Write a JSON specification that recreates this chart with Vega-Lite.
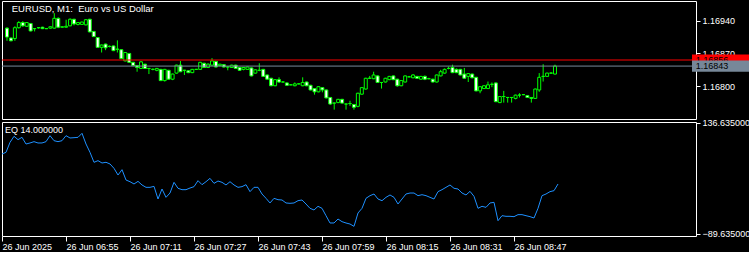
{
  "$schema": "https://vega.github.io/schema/vega-lite/v6.json",
  "background": "#000000",
  "padding": {"left": -1, "top": 0, "right": 0, "bottom": 0},
  "bounds": "flush",
  "config": {
    "view": {"stroke": "#FFFFFF", "strokeWidth": 1},
    "axis": {"domain": false, "grid": false, "tickColor": "#FFFFFF", "labelColor": "#FFFFFF", "labelFont": "Liberation Sans", "labelFontSize": 9, "tickSize": 4, "labelPadding": 2, "title": null}
  },
  "data": {"values": [
    {"m":399,"o":1.16924,"h":1.16926,"l":1.16897,"c":1.16905,"eq":73.4},
    {"m":400,"o":1.16903,"h":1.16904,"l":1.16896,"c":1.16897,"eq":76.8},
    {"m":401,"o":1.16902,"h":1.16928,"l":1.16897,"c":1.16925,"eq":97.2},
    {"m":402,"o":1.16925,"h":1.16939,"l":1.16923,"c":1.16936,"eq":109.5},
    {"m":403,"o":1.16936,"h":1.16939,"l":1.16927,"c":1.16929,"eq":102.7},
    {"m":404,"o":1.16928,"h":1.16937,"l":1.16927,"c":1.16936,"eq":107.4},
    {"m":405,"o":1.16934,"h":1.16935,"l":1.16917,"c":1.16918,"eq":93.8},
    {"m":406,"o":1.16923,"h":1.16924,"l":1.16917,"c":1.16923,"eq":95.9},
    {"m":407,"o":1.16925,"h":1.16926,"l":1.16923,"c":1.16925,"eq":98.6},
    {"m":408,"o":1.16926,"h":1.16927,"l":1.16922,"c":1.16923,"eq":95.9},
    {"m":409,"o":1.16923,"h":1.16924,"l":1.16922,"c":1.16923,"eq":95.9},
    {"m":410,"o":1.16924,"h":1.16928,"l":1.16923,"c":1.16927,"eq":98.6},
    {"m":411,"o":1.16924,"h":1.16956,"l":1.16923,"c":1.16945,"eq":110.8},
    {"m":412,"o":1.16945,"h":1.16947,"l":1.16924,"c":1.16926,"eq":100.6},
    {"m":413,"o":1.16926,"h":1.16928,"l":1.16925,"c":1.16927,"eq":98.6},
    {"m":414,"o":1.16926,"h":1.16942,"l":1.16925,"c":1.16928,"eq":100.6},
    {"m":415,"o":1.16929,"h":1.16945,"l":1.16928,"c":1.16943,"eq":110.8},
    {"m":416,"o":1.16943,"h":1.16944,"l":1.16930,"c":1.16933,"eq":106.1},
    {"m":417,"o":1.16932,"h":1.16937,"l":1.16930,"c":1.16936,"eq":106.7},
    {"m":418,"o":1.16932,"h":1.16938,"l":1.16931,"c":1.16937,"eq":107.4},
    {"m":419,"o":1.16931,"h":1.16943,"l":1.16930,"c":1.16942,"eq":115.6},
    {"m":420,"o":1.16943,"h":1.16944,"l":1.16915,"c":1.16916,"eq":93.8},
    {"m":421,"o":1.16917,"h":1.16917,"l":1.16905,"c":1.16906,"eq":76.8},
    {"m":422,"o":1.16904,"h":1.16905,"l":1.16882,"c":1.16883,"eq":56.5},
    {"m":423,"o":1.16883,"h":1.16889,"l":1.16872,"c":1.16888,"eq":59.9},
    {"m":424,"o":1.16890,"h":1.16891,"l":1.16877,"c":1.16882,"eq":55.1},
    {"m":425,"o":1.16885,"h":1.16887,"l":1.16883,"c":1.16885,"eq":56.5},
    {"m":426,"o":1.16886,"h":1.16887,"l":1.16875,"c":1.16876,"eq":53.1},
    {"m":427,"o":1.16879,"h":1.16898,"l":1.16872,"c":1.16879,"eq":44.2},
    {"m":428,"o":1.16878,"h":1.16879,"l":1.16858,"c":1.16859,"eq":30.6},
    {"m":429,"o":1.16854,"h":1.16873,"l":1.16853,"c":1.16872,"eq":41.5},
    {"m":430,"o":1.16870,"h":1.16871,"l":1.16850,"c":1.16851,"eq":20.4},
    {"m":431,"o":1.16851,"h":1.16852,"l":1.16843,"c":1.16844,"eq":17.0},
    {"m":432,"o":1.16844,"h":1.16845,"l":1.16831,"c":1.16840,"eq":12.3},
    {"m":433,"o":1.16838,"h":1.16854,"l":1.16837,"c":1.16852,"eq":17.7},
    {"m":434,"o":1.16847,"h":1.16848,"l":1.16837,"c":1.16838,"eq":10.3},
    {"m":435,"o":1.16838,"h":1.16839,"l":1.16826,"c":1.16838,"eq":5.5},
    {"m":436,"o":1.16836,"h":1.16838,"l":1.16834,"c":1.16836,"eq":5.5},
    {"m":437,"o":1.16834,"h":1.16839,"l":1.16832,"c":1.16838,"eq":7.5},
    {"m":438,"o":1.16836,"h":1.16837,"l":1.16811,"c":1.16812,"eq":-18.3},
    {"m":439,"o":1.16812,"h":1.16837,"l":1.16810,"c":1.16836,"eq":2.1},
    {"m":440,"o":1.16834,"h":1.16835,"l":1.16814,"c":1.16815,"eq":-14.9},
    {"m":441,"o":1.16815,"h":1.16827,"l":1.16813,"c":1.16826,"eq":-6.1},
    {"m":442,"o":1.16828,"h":1.16846,"l":1.16827,"c":1.16845,"eq":15.7},
    {"m":443,"o":1.16845,"h":1.16854,"l":1.16830,"c":1.16831,"eq":3.5},
    {"m":444,"o":1.16834,"h":1.16835,"l":1.16824,"c":1.16834,"eq":0.7},
    {"m":445,"o":1.16833,"h":1.16834,"l":1.16828,"c":1.16829,"eq":0.7},
    {"m":446,"o":1.16829,"h":1.16837,"l":1.16828,"c":1.16836,"eq":4.1},
    {"m":447,"o":1.16836,"h":1.16837,"l":1.16835,"c":1.16836,"eq":6.9},
    {"m":448,"o":1.16836,"h":1.16852,"l":1.16835,"c":1.16851,"eq":19.1},
    {"m":449,"o":1.16849,"h":1.16850,"l":1.16839,"c":1.16840,"eq":10.9},
    {"m":450,"o":1.16840,"h":1.16849,"l":1.16839,"c":1.16847,"eq":17.0},
    {"m":451,"o":1.16845,"h":1.16860,"l":1.16844,"c":1.16854,"eq":23.8},
    {"m":452,"o":1.16853,"h":1.16854,"l":1.16840,"c":1.16841,"eq":13.6},
    {"m":453,"o":1.16844,"h":1.16848,"l":1.16843,"c":1.16847,"eq":18.4},
    {"m":454,"o":1.16846,"h":1.16847,"l":1.16840,"c":1.16841,"eq":15.7},
    {"m":455,"o":1.16841,"h":1.16843,"l":1.16834,"c":1.16841,"eq":10.3},
    {"m":456,"o":1.16840,"h":1.16846,"l":1.16839,"c":1.16845,"eq":17.0},
    {"m":457,"o":1.16845,"h":1.16846,"l":1.16837,"c":1.16838,"eq":10.3},
    {"m":458,"o":1.16840,"h":1.16841,"l":1.16833,"c":1.16834,"eq":5.5},
    {"m":459,"o":1.16836,"h":1.16841,"l":1.16834,"c":1.16840,"eq":6.9},
    {"m":460,"o":1.16836,"h":1.16842,"l":1.16835,"c":1.16841,"eq":10.9},
    {"m":461,"o":1.16839,"h":1.16840,"l":1.16821,"c":1.16822,"eq":-3.3},
    {"m":462,"o":1.16828,"h":1.16836,"l":1.16827,"c":1.16835,"eq":5.5},
    {"m":463,"o":1.16834,"h":1.16849,"l":1.16832,"c":1.16834,"eq":5.5},
    {"m":464,"o":1.16836,"h":1.16837,"l":1.16820,"c":1.16821,"eq":-8.1},
    {"m":465,"o":1.16824,"h":1.16825,"l":1.16814,"c":1.16815,"eq":-16.9},
    {"m":466,"o":1.16817,"h":1.16818,"l":1.16800,"c":1.16801,"eq":-26.4},
    {"m":467,"o":1.16801,"h":1.16815,"l":1.16800,"c":1.16814,"eq":-16.9},
    {"m":468,"o":1.16814,"h":1.16819,"l":1.16807,"c":1.16809,"eq":-19.7},
    {"m":469,"o":1.16809,"h":1.16811,"l":1.16808,"c":1.16809,"eq":-20.3},
    {"m":470,"o":1.16807,"h":1.16808,"l":1.16801,"c":1.16802,"eq":-26.4},
    {"m":471,"o":1.16803,"h":1.16804,"l":1.16802,"c":1.16803,"eq":-27.1},
    {"m":472,"o":1.16801,"h":1.16808,"l":1.16800,"c":1.16805,"eq":-26.4},
    {"m":473,"o":1.16805,"h":1.16806,"l":1.16804,"c":1.16805,"eq":-21.7},
    {"m":474,"o":1.16801,"h":1.16819,"l":1.16800,"c":1.16808,"eq":-20.3},
    {"m":475,"o":1.16809,"h":1.16810,"l":1.16800,"c":1.16801,"eq":-28.5},
    {"m":476,"o":1.16802,"h":1.16803,"l":1.16791,"c":1.16792,"eq":-37.3},
    {"m":477,"o":1.16795,"h":1.16796,"l":1.16782,"c":1.16788,"eq":-40.7},
    {"m":478,"o":1.16788,"h":1.16800,"l":1.16787,"c":1.16799,"eq":-33.2},
    {"m":479,"o":1.16797,"h":1.16798,"l":1.16787,"c":1.16792,"eq":-37.3},
    {"m":480,"o":1.16792,"h":1.16793,"l":1.16774,"c":1.16775,"eq":-52.3},
    {"m":481,"o":1.16776,"h":1.16777,"l":1.16760,"c":1.16762,"eq":-67.2},
    {"m":482,"o":1.16764,"h":1.16765,"l":1.16750,"c":1.16764,"eq":-67.2},
    {"m":483,"o":1.16765,"h":1.16773,"l":1.16764,"c":1.16772,"eq":-59.1},
    {"m":484,"o":1.16772,"h":1.16773,"l":1.16763,"c":1.16764,"eq":-64.5},
    {"m":485,"o":1.16762,"h":1.16763,"l":1.16750,"c":1.16762,"eq":-67.2},
    {"m":486,"o":1.16763,"h":1.16769,"l":1.16758,"c":1.16763,"eq":-69.3},
    {"m":487,"o":1.16761,"h":1.16762,"l":1.16750,"c":1.16755,"eq":-74.0},
    {"m":488,"o":1.16757,"h":1.16786,"l":1.16755,"c":1.16785,"eq":-46.8},
    {"m":489,"o":1.16783,"h":1.16798,"l":1.16782,"c":1.16797,"eq":-37.3},
    {"m":490,"o":1.16794,"h":1.16818,"l":1.16793,"c":1.16817,"eq":-16.9},
    {"m":491,"o":1.16817,"h":1.16822,"l":1.16816,"c":1.16817,"eq":-11.5},
    {"m":492,"o":1.16816,"h":1.16831,"l":1.16815,"c":1.16824,"eq":-8.1},
    {"m":493,"o":1.16822,"h":1.16823,"l":1.16807,"c":1.16808,"eq":-18.3},
    {"m":494,"o":1.16808,"h":1.16809,"l":1.16795,"c":1.16808,"eq":-21.7},
    {"m":495,"o":1.16809,"h":1.16818,"l":1.16808,"c":1.16817,"eq":-14.9},
    {"m":496,"o":1.16814,"h":1.16822,"l":1.16813,"c":1.16821,"eq":-10.1},
    {"m":497,"o":1.16822,"h":1.16823,"l":1.16813,"c":1.16814,"eq":-14.9},
    {"m":498,"o":1.16815,"h":1.16816,"l":1.16799,"c":1.16801,"eq":-28.5},
    {"m":499,"o":1.16801,"h":1.16813,"l":1.16800,"c":1.16812,"eq":-18.3},
    {"m":500,"o":1.16809,"h":1.16823,"l":1.16808,"c":1.16822,"eq":-8.1},
    {"m":501,"o":1.16820,"h":1.16822,"l":1.16819,"c":1.16820,"eq":-6.1},
    {"m":502,"o":1.16818,"h":1.16826,"l":1.16817,"c":1.16824,"eq":-6.1},
    {"m":503,"o":1.16821,"h":1.16822,"l":1.16816,"c":1.16817,"eq":-11.5},
    {"m":504,"o":1.16815,"h":1.16822,"l":1.16814,"c":1.16821,"eq":-9.5},
    {"m":505,"o":1.16821,"h":1.16823,"l":1.16813,"c":1.16815,"eq":-11.5},
    {"m":506,"o":1.16816,"h":1.16818,"l":1.16815,"c":1.16816,"eq":-14.9},
    {"m":507,"o":1.16815,"h":1.16816,"l":1.16808,"c":1.16809,"eq":-18.3},
    {"m":508,"o":1.16809,"h":1.16825,"l":1.16808,"c":1.16824,"eq":-3.3},
    {"m":509,"o":1.16822,"h":1.16835,"l":1.16821,"c":1.16831,"eq":0.7},
    {"m":510,"o":1.16828,"h":1.16838,"l":1.16827,"c":1.16836,"eq":5.5},
    {"m":511,"o":1.16838,"h":1.16842,"l":1.16836,"c":1.16838,"eq":10.3},
    {"m":512,"o":1.16840,"h":1.16846,"l":1.16828,"c":1.16829,"eq":3.5},
    {"m":513,"o":1.16836,"h":1.16838,"l":1.16828,"c":1.16829,"eq":2.1},
    {"m":514,"o":1.16836,"h":1.16837,"l":1.16823,"c":1.16824,"eq":-6.1},
    {"m":515,"o":1.16826,"h":1.16839,"l":1.16816,"c":1.16817,"eq":-10.1},
    {"m":516,"o":1.16821,"h":1.16828,"l":1.16809,"c":1.16827,"eq":-2.7},
    {"m":517,"o":1.16826,"h":1.16827,"l":1.16817,"c":1.16818,"eq":-12.9},
    {"m":518,"o":1.16819,"h":1.16820,"l":1.16789,"c":1.16790,"eq":-37.3},
    {"m":519,"o":1.16790,"h":1.16800,"l":1.16785,"c":1.16799,"eq":-33.2},
    {"m":520,"o":1.16795,"h":1.16802,"l":1.16794,"c":1.16801,"eq":-35.3},
    {"m":521,"o":1.16795,"h":1.16810,"l":1.16794,"c":1.16803,"eq":-26.4},
    {"m":522,"o":1.16804,"h":1.16808,"l":1.16798,"c":1.16804,"eq":-25.1},
    {"m":523,"o":1.16807,"h":1.16808,"l":1.16766,"c":1.16767,"eq":-62.5},
    {"m":524,"o":1.16765,"h":1.16779,"l":1.16764,"c":1.16778,"eq":-52.3},
    {"m":525,"o":1.16778,"h":1.16790,"l":1.16765,"c":1.16778,"eq":-53.6},
    {"m":526,"o":1.16776,"h":1.16777,"l":1.16765,"c":1.16776,"eq":-53.6},
    {"m":527,"o":1.16776,"h":1.16777,"l":1.16765,"c":1.16776,"eq":-54.3},
    {"m":528,"o":1.16774,"h":1.16782,"l":1.16772,"c":1.16781,"eq":-50.2},
    {"m":529,"o":1.16781,"h":1.16785,"l":1.16776,"c":1.16781,"eq":-50.2},
    {"m":530,"o":1.16782,"h":1.16783,"l":1.16781,"c":1.16782,"eq":-52.3},
    {"m":531,"o":1.16780,"h":1.16781,"l":1.16775,"c":1.16776,"eq":-54.3},
    {"m":532,"o":1.16776,"h":1.16777,"l":1.16765,"c":1.16774,"eq":-57.0},
    {"m":533,"o":1.16774,"h":1.16795,"l":1.16773,"c":1.16794,"eq":-37.3},
    {"m":534,"o":1.16792,"h":1.16828,"l":1.16788,"c":1.16819,"eq":-11.5},
    {"m":535,"o":1.16821,"h":1.16847,"l":1.16810,"c":1.16821,"eq":-8.1},
    {"m":536,"o":1.16821,"h":1.16829,"l":1.16820,"c":1.16828,"eq":-3.3},
    {"m":537,"o":1.16828,"h":1.16830,"l":1.16827,"c":1.16828,"eq":-1.3},
    {"m":538,"o":1.16826,"h":1.16846,"l":1.16825,"c":1.16843,"eq":12.3}
  ]},
  "spacing": 3,
  "vconcat": [
    {
      "width": 694,
      "height": 118,
      "layer": [
        {
          "mark": {"type": "rule", "color": "#00FF00", "strokeWidth": 1},
          "encoding": {
            "x": {"field": "m", "type": "quantitative", "scale": {"domain": [399, 572.5], "nice": false, "zero": false}, "axis": null},
            "y": {"field": "l", "type": "quantitative", "scale": {"domain": [1.1673, 1.16982], "nice": false, "zero": false}, "axis": {"orient": "right", "values": [1.168, 1.1687, 1.1694], "format": ".5f"}},
            "y2": {"field": "h"}
          }
        },
        {
          "mark": {"type": "bar", "size": 3, "stroke": "#00FF00", "strokeWidth": 1},
          "encoding": {
            "x": {"field": "m", "type": "quantitative", "scale": {"domain": [399, 572.5], "nice": false, "zero": false}, "axis": null},
            "y": {"field": "o", "type": "quantitative", "scale": {"domain": [1.1673, 1.16982], "nice": false, "zero": false}, "axis": {"orient": "right", "values": [1.168, 1.1687, 1.1694], "format": ".5f"}},
            "y2": {"field": "c"},
            "fill": {"condition": {"test": "datum.c < datum.o", "value": "#FFFFFF"}, "value": "#000000"}
          }
        },
        {
          "data": {"values": [{"p": 1.16856}]},
          "mark": {"type": "rule", "color": "#FF0000", "strokeWidth": 1},
          "encoding": {
            "y": {"field": "p", "type": "quantitative", "scale": {"domain": [1.1673, 1.16982], "nice": false, "zero": false}, "axis": {"orient": "right", "values": [1.168, 1.1687, 1.1694], "format": ".5f"}}
          }
        },
        {
          "data": {"values": [{"p": 1.16843}]},
          "mark": {"type": "rule", "color": "#778899", "strokeWidth": 1},
          "encoding": {
            "y": {"field": "p", "type": "quantitative", "scale": {"domain": [1.1673, 1.16982], "nice": false, "zero": false}, "axis": {"orient": "right", "values": [1.168, 1.1687, 1.1694], "format": ".5f"}}
          }
        },
        {
          "data": {"values": [{"x1": 572.75, "x2": 590, "y1": 1.16868, "y2": 1.16844}]},
          "mark": {"type": "rect", "color": "#FF0000"},
          "encoding": {
            "x": {"field": "x1", "type": "quantitative", "scale": {"domain": [399, 572.5], "nice": false, "zero": false}, "axis": null},
            "x2": {"field": "x2"},
            "y": {"field": "y1", "type": "quantitative", "scale": {"domain": [1.1673, 1.16982], "nice": false, "zero": false}, "axis": {"orient": "right", "values": [1.168, 1.1687, 1.1694], "format": ".5f"}},
            "y2": {"field": "y2"}
          }
        },
        {
          "data": {"values": [{"x": 573.7, "p": 1.16856, "t": "1.16856"}]},
          "mark": {"type": "text", "align": "left", "baseline": "middle", "color": "#000000", "font": "Liberation Sans", "fontSize": 9},
          "encoding": {
            "x": {"field": "x", "type": "quantitative", "scale": {"domain": [399, 572.5], "nice": false, "zero": false}, "axis": null},
            "y": {"field": "p", "type": "quantitative", "scale": {"domain": [1.1673, 1.16982], "nice": false, "zero": false}, "axis": {"orient": "right", "values": [1.168, 1.1687, 1.1694], "format": ".5f"}},
            "text": {"field": "t"}
          }
        },
        {
          "data": {"values": [{"x1": 572.75, "x2": 590, "y1": 1.16855, "y2": 1.16831}]},
          "mark": {"type": "rect", "color": "#778899"},
          "encoding": {
            "x": {"field": "x1", "type": "quantitative", "scale": {"domain": [399, 572.5], "nice": false, "zero": false}, "axis": null},
            "x2": {"field": "x2"},
            "y": {"field": "y1", "type": "quantitative", "scale": {"domain": [1.1673, 1.16982], "nice": false, "zero": false}, "axis": {"orient": "right", "values": [1.168, 1.1687, 1.1694], "format": ".5f"}},
            "y2": {"field": "y2"}
          }
        },
        {
          "data": {"values": [{"x": 573.7, "p": 1.16843, "t": "1.16843"}]},
          "mark": {"type": "text", "align": "left", "baseline": "middle", "color": "#000000", "font": "Liberation Sans", "fontSize": 9},
          "encoding": {
            "x": {"field": "x", "type": "quantitative", "scale": {"domain": [399, 572.5], "nice": false, "zero": false}, "axis": null},
            "y": {"field": "p", "type": "quantitative", "scale": {"domain": [1.1673, 1.16982], "nice": false, "zero": false}, "axis": {"orient": "right", "values": [1.168, 1.1687, 1.1694], "format": ".5f"}},
            "text": {"field": "t"}
          }
        },
        {
          "data": {"values": [{"x": 400.2, "p": 1.16959, "t": "EURUSD, M1: \u00a0Euro vs US Dollar"}]},
          "mark": {"type": "text", "align": "left", "baseline": "alphabetic", "color": "#FFFFFF", "font": "Liberation Sans", "fontSize": 9.5},
          "encoding": {
            "x": {"field": "x", "type": "quantitative", "scale": {"domain": [399, 572.5], "nice": false, "zero": false}, "axis": null},
            "y": {"field": "p", "type": "quantitative", "scale": {"domain": [1.1673, 1.16982], "nice": false, "zero": false}, "axis": {"orient": "right", "values": [1.168, 1.1687, 1.1694], "format": ".5f"}},
            "text": {"field": "t"}
          }
        }
      ]
    },
    {
      "width": 694,
      "height": 114,
      "layer": [
        {
          "mark": {"type": "line", "color": "#1E90FF", "strokeWidth": 1},
          "encoding": {
            "x": {"field": "m", "type": "quantitative", "scale": {"domain": [399, 572.5], "nice": false, "zero": false},
              "axis": {"values": [399, 415, 431, 447, 463, 479, 495, 511, 527], "labelExpr": "datum.value == 399 ? '26 Jun 2025' : '26 Jun ' + format(floor(datum.value / 60), '02d') + ':' + format(datum.value % 60, '02d')", "labelAlign": "left", "labelBaseline": "top", "tickSize": 5, "labelPadding": 1, "labelFlush": false, "labelOverlap": false}},
            "y": {"field": "eq", "type": "quantitative", "scale": {"domain": [-93.712, 138.673], "nice": false, "zero": false}, "axis": {"orient": "right", "values": [-89.635, 136.635], "format": ".6f"}}
          }
        },
        {
          "data": {"values": [{"x": 399.75, "v": 116.25, "t": "EQ 14.000000"}]},
          "mark": {"type": "text", "align": "left", "baseline": "alphabetic", "color": "#FFFFFF", "font": "Liberation Sans", "fontSize": 9},
          "encoding": {
            "x": {"field": "x", "type": "quantitative", "scale": {"domain": [399, 572.5], "nice": false, "zero": false},
              "axis": {"values": [399, 415, 431, 447, 463, 479, 495, 511, 527], "labelExpr": "datum.value == 399 ? '26 Jun 2025' : '26 Jun ' + format(floor(datum.value / 60), '02d') + ':' + format(datum.value % 60, '02d')", "labelAlign": "left", "labelBaseline": "top", "tickSize": 5, "labelPadding": 1, "labelFlush": false, "labelOverlap": false}},
            "y": {"field": "v", "type": "quantitative", "scale": {"domain": [-93.712, 138.673], "nice": false, "zero": false}, "axis": {"orient": "right", "values": [-89.635, 136.635], "format": ".6f"}},
            "text": {"field": "t"}
          }
        }
      ]
    }
  ]
}
